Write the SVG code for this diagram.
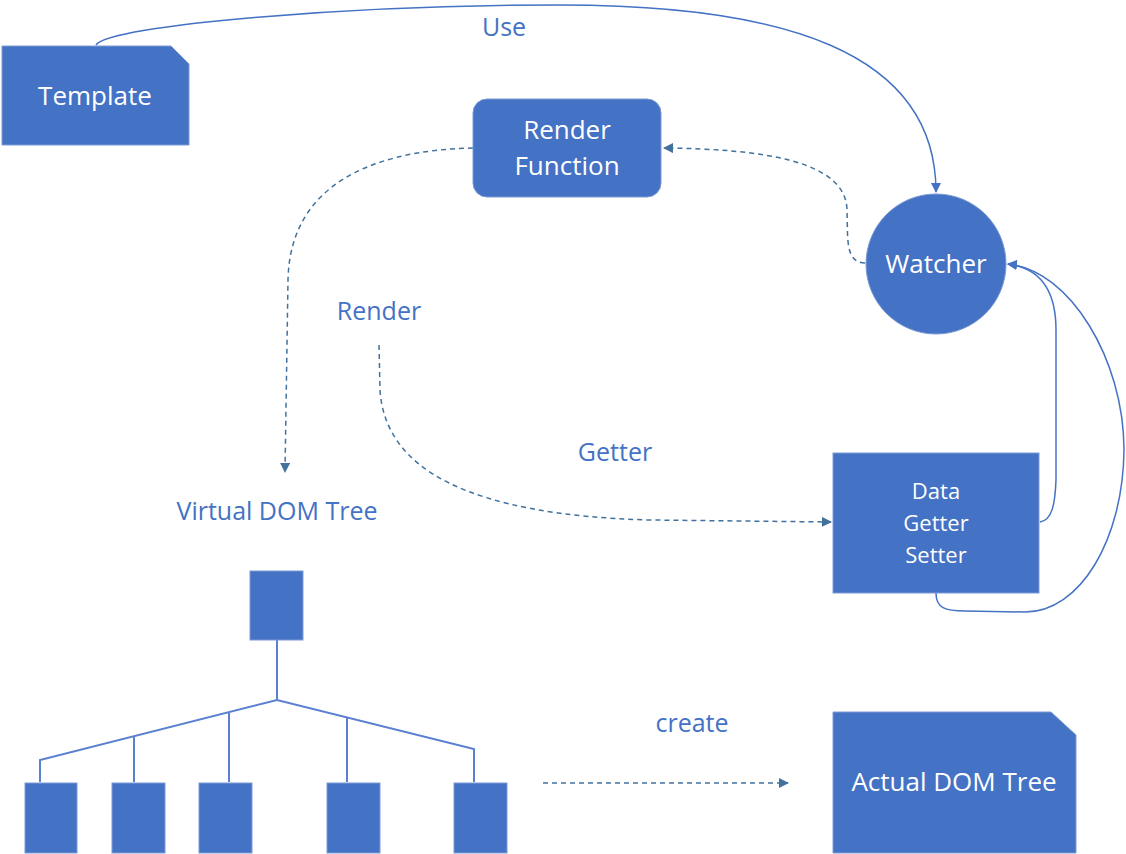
<svg xmlns="http://www.w3.org/2000/svg" width="1126" height="854" viewBox="0 0 1126 854">
<defs>
<style>
.node{fill:#4472C4;stroke:#7C9AD6;stroke-width:1}
.nt{font-family:"Open Sans","Noto Sans",sans-serif;fill:#ffffff;text-anchor:middle}
.lbl{font-family:"Open Sans","Noto Sans",sans-serif;fill:#4472C4;text-anchor:middle;font-size:25px}
.solid{fill:none;stroke:#4472C4;stroke-width:1.5}
.dash{fill:none;stroke:#41719C;stroke-width:1.5;stroke-dasharray:5 4}
.tree{fill:none;stroke:#5B80CF;stroke-width:2}
</style>
<marker id="aS" viewBox="0 0 10 10" refX="9" refY="5" markerWidth="10" markerHeight="10" markerUnits="userSpaceOnUse" orient="auto"><path d="M0,0 L10,5 L0,10 z" fill="#4472C4"/></marker>
<marker id="aD" viewBox="0 0 10 10" refX="9" refY="5" markerWidth="10" markerHeight="10" markerUnits="userSpaceOnUse" orient="auto"><path d="M0,0 L10,5 L0,10 z" fill="#41719C"/></marker>
</defs>
<rect width="1126" height="854" fill="#ffffff"/>

<g id="connectors">
<path class="solid" d="M 96 45 C 110 25 350 5 560 5 C 780 5 936 50 936 192" marker-end="url(#aS)"/>
<path class="dash" d="M 865 263 C 845 262 848 240 847 210 C 846 160 760 149 664 148" marker-end="url(#aD)"/>
<path class="dash" d="M 473 148 C 380 150 290 180 288 280 L 285 472" marker-end="url(#aD)"/>
<path class="dash" d="M 379 345 L 380 390 C 385 470 470 515 650 520 L 831 522" marker-end="url(#aD)"/>
<path class="solid" d="M 1040 522 C 1052 520 1055 505 1056 480 L 1056 330 C 1056 290 1040 268 1008 264" marker-end="url(#aS)"/>
<path class="solid" d="M 936 593 C 936 608 945 611 965 611 L 1025 612 C 1080 612 1123 540 1124 450 C 1124 360 1070 270 1008 264" marker-end="url(#aS)"/>
<path class="dash" d="M 543 783 L 788 783" marker-end="url(#aD)"/>
<text class="lbl" x="504" y="36">Use</text>
<text class="lbl" x="379" y="320">Render</text>
<text class="lbl" x="615" y="461">Getter</text>
<text class="lbl" x="692" y="732">create</text>
</g>

<g id="template">
<path class="node" d="M 2 46 L 171 46 L 189 64 L 189 145 L 2 145 Z"/>
<text class="nt" x="95" y="105" font-size="26">Template</text>
</g>

<g id="render-function">
<rect class="node" x="473" y="99" width="188" height="98" rx="14"/>
<text class="nt" x="567" y="139" font-size="26">Render</text>
<text class="nt" x="567" y="175" font-size="26">Function</text>
</g>

<g id="watcher">
<circle class="node" cx="936" cy="264" r="70"/>
<text class="nt" x="936" y="273" font-size="26">Watcher</text>
</g>

<g id="data">
<rect class="node" x="833" y="453" width="206" height="140"/>
<text class="nt" x="936" y="499" font-size="22">Data</text>
<text class="nt" x="936" y="531" font-size="22">Getter</text>
<text class="nt" x="936" y="563" font-size="22">Setter</text>
</g>

<g id="virtual-dom-tree">
<text class="lbl" x="277" y="520">Virtual DOM Tree</text>
<path class="tree" d="M 277 640 L 277 700 M 40 782 L 40 760 L 277 700 L 474 749 L 474 782 M 134 782 L 134 736 M 229 782 L 229 712 M 347 782 L 347 718"/>
<rect class="node" x="250" y="571" width="53" height="69"/>
<rect class="node" x="25" y="783" width="52" height="70"/>
<rect class="node" x="112" y="783" width="53" height="70"/>
<rect class="node" x="199" y="783" width="53" height="70"/>
<rect class="node" x="327" y="783" width="53" height="70"/>
<rect class="node" x="454" y="783" width="53" height="70"/>
</g>

<g id="actual-dom-tree">
<path class="node" d="M 833 712 L 1051 712 L 1076 735 L 1076 853 L 833 853 Z"/>
<text class="nt" x="954" y="791" font-size="26">Actual DOM Tree</text>
</g>
</svg>
